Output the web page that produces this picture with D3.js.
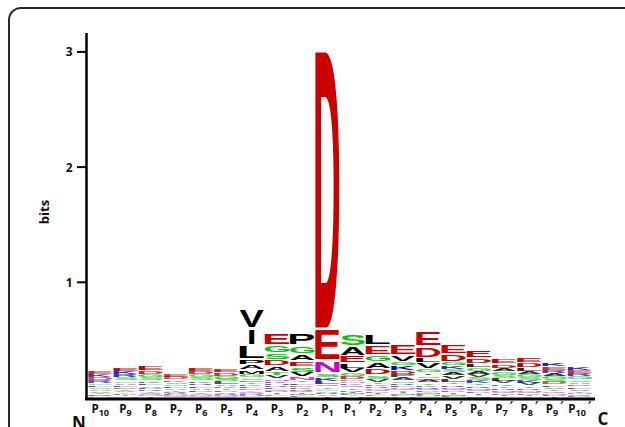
<!DOCTYPE html>
<html>
<head>
<meta charset="utf-8">
<script src="https://cdn.jsdelivr.net/npm/d3@7"></script>
<style>
  html, body { margin: 0; padding: 0; background: #fff; }
  svg { display: block; }
</style>
</head>
<body>
<figure id="logo" style="margin:0"></figure>
<script>
// position labels, N-terminal side then C-terminal side
const positions = ["P10", "P9", "P8", "P7", "P6", "P5", "P4", "P3", "P2", "P1",
  "P1'", "P2'", "P3'", "P4'", "P5'", "P6'", "P7'", "P8'", "P9'", "P10'"];

const yTicks = [1, 2, 3];

// letter stacks per position, listed top -> bottom, heights in bits
const stacks = [
  [["E", .03], ["K", .026], ["D", .024], ["R", .022], ["G", .02], ["L", .019], ["S", .018], ["A", .016], ["V", .014], ["T", .012], ["P", .01], ["Q", .008], ["N", .006]],
  [["E", .035], ["K", .03], ["R", .026], ["S", .024], ["G", .022], ["A", .02], ["L", .018], ["D", .016], ["T", .014], ["V", .012], ["Y", .01], ["P", .01], ["I", .008], ["Q", .007], ["N", .006]],
  [["E", .04], ["D", .03], ["G", .028], ["S", .025], ["K", .022], ["L", .02], ["A", .018], ["P", .016], ["R", .015], ["T", .013], ["V", .012], ["Q", .01], ["N", .008], ["I", .007]],
  [["E", .026], ["D", .022], ["K", .018], ["S", .02], ["G", .02], ["L", .016], ["A", .015], ["T", .013], ["R", .012], ["V", .011], ["P", .01], ["N", .008], ["Q", .007]],
  [["E", .035], ["D", .028], ["G", .026], ["S", .025], ["K", .022], ["R", .02], ["L", .02], ["A", .018], ["P", .018], ["T", .014], ["V", .012], ["N", .01], ["Q", .008]],
  [["E", .032], ["D", .028], ["G", .025], ["S", .024], ["L", .022], ["A", .02], ["K", .018], ["T", .016], ["P", .014], ["V", .013], ["R", .012], ["N", .01], ["Q", .008]],
  [["V", .17], ["I", .145], ["L", .12], ["P", .05], ["A", .045], ["M", .035], ["G", .025], ["S", .022], ["E", .02], ["T", .02], ["K", .018], ["F", .016], ["D", .015], ["Y", .012], ["Q", .01], ["N", .01], ["R", .01], ["H", .01], ["C", .008]],
  [["E", .105], ["G", .07], ["S", .06], ["D", .055], ["A", .045], ["T", .03], ["V", .03], ["N", .022], ["K", .02], ["H", .018], ["R", .016], ["L", .015], ["Q", .014], ["P", .014], ["I", .012], ["Y", .01], ["F", .01], ["M", .008]],
  [["P", .11], ["G", .075], ["A", .065], ["E", .05], ["S", .045], ["V", .04], ["N", .025], ["T", .022], ["L", .02], ["D", .018], ["K", .016], ["R", .015], ["Q", .013], ["I", .012], ["M", .01], ["Y", .01], ["F", .01]],
  [["D", 2.415], ["E", .277], ["N", .11], ["S", .035], ["K", .03], ["L", .025], ["Q", .02], ["T", .02], ["G", .018], ["A", .016], ["R", .014], ["V", .012], ["I", .01]],
  [["S", .105], ["A", .08], ["E", .065], ["L", .045], ["V", .04], ["G", .03], ["D", .028], ["P", .012], ["N", .015], ["K", .018], ["Q", .02], ["T", .022], ["R", .013], ["I", .01], ["M", .008], ["F", .01], ["Y", .01], ["H", .01]],
  [["L", .095], ["E", .085], ["G", .065], ["A", .06], ["D", .055], ["S", .03], ["V", .025], ["T", .02], ["K", .018], ["R", .016], ["N", .014], ["Q", .013], ["P", .012], ["I", .01], ["Y", .01], ["F", .008], ["M", .008]],
  [["E", .095], ["V", .055], ["G", .035], ["K", .04], ["D", .035], ["P", .025], ["A", .025], ["S", .022], ["R", .02], ["L", .018], ["N", .015], ["Q", .013], ["T", .012], ["I", .01], ["Y", .01], ["M", .008], ["F", .008], ["H", .008]],
  [["E", .13], ["D", .1], ["L", .04], ["V", .055], ["G", .03], ["I", .02], ["S", .022], ["N", .015], ["A", .025], ["T", .02], ["K", .018], ["R", .016], ["Q", .014], ["P", .012], ["Y", .01], ["M", .008], ["F", .01], ["H", .01], ["C", .008]],
  [["E", .085], ["D", .07], ["G", .035], ["K", .03], ["S", .025], ["A", .03], ["V", .03], ["L", .025], ["T", .02], ["R", .02], ["N", .018], ["Q", .015], ["P", .014], ["I", .012], ["Y", .01], ["M", .01], ["F", .008]],
  [["E", .07], ["D", .05], ["L", .03], ["G", .03], ["A", .03], ["V", .025], ["S", .025], ["K", .025], ["T", .02], ["R", .02], ["N", .018], ["Q", .015], ["P", .014], ["I", .012], ["Y", .01], ["M", .01]],
  [["E", .045], ["D", .035], ["A", .03], ["G", .028], ["S", .025], ["L", .025], ["V", .022], ["K", .02], ["T", .02], ["R", .018], ["N", .015], ["Q", .014], ["P", .012], ["I", .01], ["Y", .008]],
  [["E", .05], ["D", .04], ["L", .03], ["A", .028], ["G", .026], ["S", .025], ["K", .024], ["V", .022], ["T", .02], ["R", .018], ["N", .015], ["Q", .014], ["P", .012], ["I", .01], ["Y", .01]],
  [["K", .032], ["E", .03], ["R", .025], ["A", .028], ["G", .025], ["S", .024], ["D", .022], ["L", .02], ["V", .02], ["T", .018], ["Q", .015], ["N", .012], ["P", .012], ["I", .01]],
  [["K", .03], ["E", .028], ["R", .025], ["G", .025], ["S", .022], ["A", .022], ["D", .02], ["L", .02], ["V", .018], ["T", .016], ["N", .014], ["Q", .012], ["P", .01]]
];

const width = 625;
const height = 427;
const letterFont = "'Liberation Sans', Arial, sans-serif";

const colorOf = ch => {
  if ("DE".includes(ch)) return "#cc0000";
  if ("GSTYC".includes(ch)) return "#00c800";
  if ("NQ".includes(ch)) return "#cc00cc";
  if ("KRH".includes(ch)) return "#0000cc";
  return "#000000";
};

const svg = d3.select("figure#logo")
  .append("svg")
  .attr("width", width)
  .attr("height", height);

// rounded frame, runs off the right and bottom edges
svg.append("rect")
  .attr("x", 9).attr("y", 8)
  .attr("width", 700).attr("height", 500)
  .attr("rx", 12)
  .attr("fill", "none")
  .attr("stroke", "#2a2a2a")
  .attr("stroke-width", 2);

const x = d3.scaleBand()
  .domain(positions)
  .range([88, 592])
  .paddingInner(0.03);

const y = d3.scaleLinear()
  .domain([0, 3])
  .range([397.5, 51.9]);

// measure glyph ink boxes so letters can be stretched to fill their slot
const ctx = document.createElement("canvas").getContext("2d");
ctx.font = "bold 100px " + letterFont;
const inkCache = {};
function ink(ch) {
  if (!inkCache[ch]) {
    const m = ctx.measureText(ch);
    inkCache[ch] = {
      l: m.actualBoundingBoxLeft, r: m.actualBoundingBoxRight,
      a: m.actualBoundingBoxAscent, d: m.actualBoundingBoxDescent
    };
  }
  return inkCache[ch];
}

const rows = [];
stacks.forEach((stack, i) => {
  let cum = 0;
  stack.slice().reverse().forEach(([ch, h]) => {
    rows.push({ pos: positions[i], ch: ch, lo: cum, hi: cum + h });
    cum += h;
  });
});

svg.append("g")
  .selectAll("text")
  .data(rows)
  .join("text")
  .text(d => d.ch)
  .attr("font-family", letterFont)
  .attr("font-weight", "bold")
  .attr("font-size", 100)
  .attr("fill", d => colorOf(d.ch))
  .attr("fill-opacity", d => {
    const hp = y(d.lo) - y(d.hi);
    return Math.max(0.35, Math.min(1, 0.3 + hp * 0.16));
  })
  .attr("transform", d => {
    const b = ink(d.ch);
    const hp = y(d.lo) - y(d.hi);
    // small white gap under each letter (none on the baseline)
    const gap = d.lo === 0 ? 0 : (hp < 6 ? hp * 0.3 : Math.min(2.5, 1.5 + hp * 0.05));
    // "I" keeps a narrow stem instead of becoming a block
    const w = d.ch === "I" ? x.bandwidth() * 0.22 : x.bandwidth();
    const x0 = x(d.pos) + (x.bandwidth() - w) / 2;
    const sx = w / (b.l + b.r);
    const sy = (hp - gap) / (b.a + b.d);
    return "translate(" + x0 + "," + y(d.hi) + ") scale(" + sx + "," + sy + ") translate(" + b.l + "," + b.a + ")";
  });

// y axis
const axisG = svg.append("g");
axisG.append("line")
  .attr("x1", 86.5).attr("x2", 86.5)
  .attr("y1", 33).attr("y2", 400)
  .attr("stroke", "#000").attr("stroke-width", 2.5);

axisG.selectAll(".tick")
  .data(yTicks)
  .join("line")
  .attr("x1", 77).attr("x2", 86)
  .attr("y1", d => y(d)).attr("y2", d => y(d))
  .attr("stroke", "#000").attr("stroke-width", 2);

axisG.selectAll(".tlabel")
  .data(yTicks)
  .join("text")
  .attr("x", 72.5)
  .attr("y", d => y(d) + 4.5)
  .attr("text-anchor", "end")
  .attr("font-family", "'Open Sans', sans-serif")
  .attr("font-weight", "bold")
  .attr("font-size", 12)
  .attr("fill", "#111")
  .text(d => d);

svg.append("text")
  .attr("transform", "translate(49,212) rotate(-90)")
  .attr("text-anchor", "middle")
  .attr("font-family", "'Open Sans', sans-serif")
  .attr("font-weight", "bold")
  .attr("font-size", 13)
  .attr("fill", "#111")
  .text("bits");

// x axis
svg.append("line")
  .attr("x1", 85).attr("x2", 595)
  .attr("y1", 399).attr("y2", 399)
  .attr("stroke", "#000").attr("stroke-width", 3);

const labels = svg.append("g")
  .selectAll("text")
  .data(positions)
  .join("text")
  .attr("x", d => x(d) + x.bandwidth() / 2)
  .attr("y", 413)
  .attr("text-anchor", "middle")
  .attr("font-family", "'Open Sans', sans-serif")
  .attr("font-weight", "bold")
  .attr("fill", "#111");

labels.append("tspan").attr("font-size", 11.5).text("P");
labels.append("tspan")
  .attr("font-size", 9)
  .attr("dy", 2.5)
  .text(d => d.replace("P", "").replace("'", ""));
labels.filter(d => d.includes("'"))
  .append("tspan")
  .attr("font-size", 11)
  .attr("dx", 2)
  .attr("dy", -7)
  .text("′");

svg.append("text")
  .attr("x", 79).attr("y", 429)
  .attr("text-anchor", "middle")
  .attr("font-family", "'Open Sans', sans-serif")
  .attr("font-weight", "bold")
  .attr("font-size", 17)
  .attr("fill", "#111")
  .text("N");

svg.append("text")
  .attr("x", 603).attr("y", 425)
  .attr("text-anchor", "middle")
  .attr("font-family", "'Open Sans', sans-serif")
  .attr("font-weight", "bold")
  .attr("font-size", 17)
  .attr("fill", "#111")
  .text("C");
</script>
</body>
</html>
